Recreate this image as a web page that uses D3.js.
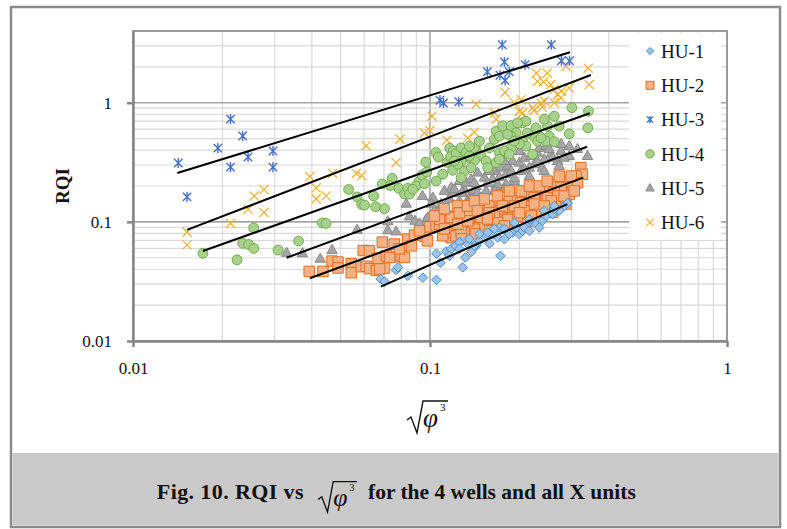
<!DOCTYPE html>
<html>
<head>
<meta charset="utf-8">
<script src="https://d3js.org/d3.v7.min.js"></script>
<style>
  body { margin: 0; background: #fff; }
  text { font-family: "Liberation Serif", "Times New Roman", serif; fill: #111; }
</style>
</head>
<body>
<script>
// data points: [sqrt(phi^3), RQI]
var hu1 = [[0.0682,0.0332],[0.0703,0.0315],[0.0769,0.0394],[0.078,0.0416],[0.0842,0.0353],[0.0946,0.034],
  [0.1051,0.0326],[0.1051,0.054],[0.1084,0.0454],[0.1132,0.0564],[0.1177,0.0591],[0.1218,0.063],[0.1256,0.0674],
  [0.1289,0.0415],[0.1316,0.0503],[0.1378,0.0561],[0.1357,0.0651],[0.143,0.063],[0.1585,0.0658],[0.1726,0.0519],
  [0.169,0.0739],[0.178,0.0717],[0.1897,0.0814],[0.200,0.0789],[0.205,0.0841],[0.216,0.0956],[0.2105,0.0926],
  [0.2274,0.0956],[0.239,0.102],[0.2457,0.112],[0.2586,0.116],[0.2723,0.124],[0.283,0.136],[0.2905,0.144],
  [0.1545,0.0764],[0.1626,0.0789],[0.1467,0.0693],[0.1712,0.0896],[0.1949,0.0896],[0.2333,0.0896],[0.262,0.128],
  [0.2077,0.0896],[0.185,0.0789],[0.1411,0.063],[0.134,0.0651],[0.1564,0.0814],[0.216,0.0841],
  [0.1467,0.0793],[0.1647,0.0874],[0.178,0.0874],[0.1923,0.0981],[0.216,0.105],[0.2425,0.124],[0.262,0.136],
  [0.1357,0.072],[0.1256,0.0594],[0.1163,0.0519]];

var hu2 = [[0.0392,0.0384],[0.0436,0.0384],[0.0468,0.0469],[0.049,0.046],[0.049,0.041],[0.0543,0.0445],
  [0.0543,0.0374],[0.0587,0.042],[0.061,0.0424],[0.0626,0.0405],[0.0596,0.0575],[0.0625,0.0572],[0.066,0.0391],
  [0.0703,0.041],[0.0668,0.0495],[0.0713,0.0519],[0.0691,0.0676],[0.0758,0.0651],[0.078,0.051],[0.0731,0.0503],
  [0.080,0.0519],[0.0821,0.0503],[0.0842,0.0717],[0.0887,0.0775],[0.0962,0.0756],[0.0996,0.0908],[0.1049,0.0926],
  [0.1076,0.0956],[0.1133,0.0956],[0.1163,0.102],[0.1179,0.0735],[0.1179,0.0814],[0.1306,0.0852],[0.1392,0.0956],
  [0.1467,0.102],[0.1545,0.0926],[0.1626,0.105],[0.1669,0.116],[0.178,0.112],[0.1897,0.120],[0.200,0.132],
  [0.2105,0.141],[0.2215,0.150],[0.2333,0.160],[0.2457,0.165],[0.2586,0.171],[0.2723,0.182],[0.287,0.194],
  [0.302,0.207],[0.310,0.213],[0.1289,0.102],[0.1357,0.112],[0.1504,0.124],[0.1585,0.136],[0.1712,0.141],
  [0.185,0.150],[0.1972,0.160],[0.2105,0.171],[0.2274,0.182],[0.2457,0.194],[0.2655,0.207],[0.1076,0.105],
  [0.1179,0.109],[0.1104,0.0764],[0.1224,0.0764],[0.1357,0.0814],[0.1467,0.0896],[0.1585,0.0841],[0.1712,0.0987],
  [0.1897,0.102],[0.2105,0.109],[0.2274,0.120],[0.252,0.132],[0.2723,0.150],[0.2943,0.171],[0.287,0.141],
  [0.2586,0.120],[0.322,0.285],[0.326,0.251],[0.310,0.242],[0.2905,0.220],[0.314,0.213],[0.276,0.194],
  [0.262,0.176],[0.2487,0.160],[0.2188,0.136],[0.1735,0.128],[0.269,0.165],[0.2131,0.124],[0.1972,0.112],
  [0.1825,0.105],[0.169,0.0987],[0.1411,0.0868],[0.1273,0.0841],[0.124,0.0956],[0.134,0.102],[0.1486,0.109],
  [0.1647,0.120],[0.1825,0.132],[0.2025,0.145],[0.2245,0.160],[0.0677,0.0402],
  [0.1035,0.112],[0.1118,0.129],[0.1237,0.136],[0.1256,0.119],[0.1336,0.136],[0.1411,0.150],[0.1444,0.124],
  [0.1525,0.156],[0.1585,0.119],[0.1686,0.165],[0.1753,0.136],[0.185,0.182],[0.1923,0.136],[0.203,0.182],
  [0.216,0.200],[0.2245,0.141],[0.2333,0.200],[0.248,0.220],[0.256,0.150],[0.2723,0.242],[0.283,0.165],
  [0.299,0.242],[0.306,0.182],[0.1118,0.0874],[0.1276,0.072],[0.1422,0.0793],[0.1561,0.106],[0.178,0.0926],
  [0.200,0.119],[0.2193,0.112],[0.2425,0.136],[0.0922,0.0841],[0.098,0.0693],[0.0866,0.063],[0.0789,0.0594]];

var hu3 = [[0.0142,0.312],[0.0213,0.728],[0.0234,0.525],[0.0193,0.416],[0.0244,0.350],[0.0296,0.393],
  [0.0213,0.288],[0.0296,0.288],[0.0152,0.162],[0.175,3.07],[0.256,3.07],[0.178,2.20],[0.209,2.09],
  [0.156,1.82],[0.172,1.70],[0.185,1.82],[0.179,1.54],[0.108,1.05],[0.111,0.995],[0.125,1.02],
  [0.277,2.25],[0.295,2.25]];

var hu4 = [[0.0172,0.0545],[0.0224,0.048],[0.0234,0.066],[0.0245,0.0646],[0.0255,0.0598],[0.0255,0.089],
  [0.0308,0.058],[0.0361,0.069],[0.0434,0.098],[0.0447,0.097],[0.0532,0.187],[0.0568,0.162],[0.0589,0.140],
  [0.0602,0.138],[0.0646,0.165],[0.0656,0.134],[0.0703,0.129],[0.0691,0.208],[0.0746,0.232],[0.0735,0.202],
  [0.0785,0.191],[0.0821,0.171],[0.0842,0.191],[0.0853,0.171],[0.0917,0.217],[0.0941,0.247],[0.0975,0.262],
  [0.0968,0.318],[0.1046,0.382],[0.1066,0.350],[0.1142,0.316],[0.1165,0.416],[0.1196,0.393],[0.1172,0.352],
  [0.1224,0.373],[0.1273,0.418],[0.1323,0.380],[0.1375,0.335],[0.143,0.406],[0.1273,0.324],[0.1585,0.418],
  [0.1647,0.492],[0.1669,0.578],[0.1757,0.640],[0.1874,0.642],[0.1949,0.559],[0.205,0.678],[0.2105,0.700],
  [0.2274,0.615],[0.2333,0.524],[0.2487,0.636],[0.252,0.524],[0.262,0.771],[0.2943,0.548],[0.3005,0.908],
  [0.3416,0.849],[0.340,0.615],[0.2245,0.515],[0.205,0.476],[0.1874,0.524],[0.1712,0.524],[0.1712,0.380],
  [0.1874,0.418],[0.2105,0.432],[0.2215,0.369],[0.2302,0.476],[0.2457,0.476],[0.1486,0.357],[0.1545,0.324],
  [0.1306,0.267],[0.1192,0.271],[0.1104,0.251],[0.1049,0.220],[0.0898,0.200],[0.0875,0.188],[0.0958,0.209],
  [0.262,0.470],[0.200,0.452],[0.1825,0.542],[0.178,0.393],[0.185,0.369],[0.1411,0.328],[0.1357,0.357],
  [0.1375,0.285],[0.1564,0.285],[0.1273,0.235],[0.124,0.304],[0.1669,0.314],[0.1972,0.678],[0.2364,0.508],
  [0.1411,0.418],[0.1208,0.324],[0.1357,0.432],[0.1467,0.476],[0.1712,0.335],[0.1923,0.476],[0.2126,0.556],
  [0.2425,0.728],[0.2723,0.636]];

var hu5 = [[0.0329,0.055],[0.0372,0.0545],[0.0427,0.049],[0.0468,0.058],[0.0568,0.0857],[0.0721,0.101],
  [0.0721,0.085],[0.0769,0.083],[0.0853,0.111],[0.089,0.102],[0.0971,0.105],[0.0832,0.142],[0.0943,0.165],
  [0.1022,0.160],[0.1009,0.142],[0.1133,0.116],[0.1076,0.125],[0.1035,0.125],[0.1118,0.182],[0.1179,0.194],
  [0.1192,0.176],[0.1224,0.128],[0.109,0.141],[0.0922,0.097],[0.0983,0.109],[0.1148,0.120],[0.1256,0.150],
  [0.1289,0.128],[0.1357,0.160],[0.143,0.141],[0.1504,0.160],[0.1208,0.188],[0.1306,0.188],[0.143,0.200],
  [0.1545,0.182],[0.1669,0.200],[0.1803,0.207],[0.1256,0.220],[0.1323,0.213],[0.1375,0.228],[0.1447,0.259],
  [0.1525,0.235],[0.1626,0.228],[0.1647,0.267],[0.1735,0.285],[0.1825,0.294],[0.1897,0.324],[0.1803,0.251],
  [0.200,0.314],[0.2077,0.345],[0.2188,0.357],[0.2302,0.380],[0.2333,0.418],[0.2457,0.432],[0.262,0.461],
  [0.2943,0.432],[0.2943,0.357],[0.276,0.393],[0.255,0.369],[0.2245,0.304],[0.2425,0.335],[0.2025,0.267],
  [0.1923,0.220],[0.169,0.207],[0.1411,0.182],[0.1289,0.176],[0.339,0.357],[0.269,0.324],[0.216,0.285],
  [0.239,0.285],[0.178,0.188],[0.134,0.145],[0.1467,0.160],[0.283,0.345],[0.259,0.345],
  [0.1163,0.156],[0.1276,0.175],[0.1411,0.212],[0.1561,0.212],[0.1712,0.238],[0.1878,0.267],[0.2077,0.278],
  [0.2297,0.324],[0.252,0.408],[0.2767,0.450],[0.3137,0.408],[0.200,0.393],[0.178,0.324],[0.1585,0.267],
  [0.1444,0.175],[0.1647,0.182],[0.1923,0.233],[0.216,0.242],[0.2425,0.267],[0.2723,0.294]];

var hu6 = [[0.0152,0.082],[0.0152,0.064],[0.0213,0.097],[0.0244,0.128],[0.0256,0.165],[0.0276,0.187],
  [0.0276,0.120],[0.0394,0.240],[0.0414,0.193],[0.0414,0.156],[0.0447,0.165],[0.047,0.255],[0.0565,0.255],
  [0.0589,0.245],[0.061,0.436],[0.0769,0.315],[0.0793,0.495],[0.1016,0.771],[0.0958,0.558],[0.100,0.585],
  [0.114,0.485],[0.134,0.505],[0.141,0.566],[0.143,0.970],[0.165,0.822],[0.167,0.728],[0.179,1.22],
  [0.192,1.00],[0.203,1.06],[0.200,0.849],[0.205,0.822],[0.222,0.905],[0.224,0.861],[0.237,0.995],
  [0.239,0.916],[0.243,1.03],[0.262,1.00],[0.228,1.77],[0.248,1.77],[0.230,1.51],[0.241,1.50],[0.255,1.42],
  [0.262,1.29],[0.269,1.17],[0.277,1.25],[0.287,2.02],[0.294,1.33],[0.276,1.10],[0.341,1.95],[0.344,1.42]];

// power-law trend lines, end points [x, RQI]
var trend1 = [[0.0683,0.0286],[0.290,0.141]];
var trend2 = [[0.0394,0.0336],[0.328,0.235]];
var trend3 = [[0.0141,0.257],[0.296,2.65]];
var trend4 = [[0.0172,0.0569],[0.345,0.817]];
var trend5 = [[0.0329,0.050],[0.338,0.427]];
var trend6 = [[0.0152,0.0857],[0.348,1.71]];

var seriesNames = ["HU-1", "HU-2", "HU-3", "HU-4", "HU-5", "HU-6"];
var xTicks = [0.01, 0.1, 1];
var yTicks = [0.01, 0.1, 1];

var W = 787, H = 529;
var pLeft = 133, pRight = 727, pTop = 31, pBottom = 341;

var svg = d3.select("body").append("svg")
    .attr("width", W)
    .attr("height", H);

// figure frame and caption band
svg.append("rect")
    .attr("x", 11).attr("y", 7).attr("width", 769).attr("height", 520)
    .attr("fill", "#fff").attr("stroke", "#8a8a8a").attr("stroke-width", 2.5);
svg.append("rect")
    .attr("x", 12.5).attr("y", 453).attr("width", 766).attr("height", 72.5)
    .attr("fill", "#c9c9c9");

var x = d3.scaleLog().domain([0.01, 1]).range([pLeft, pRight]);
var y = d3.scaleLog().domain([0.01, 4]).range([pBottom, pTop]);

// gridlines
var grid = svg.append("g");
grid.selectAll(".gx").data(x.ticks()).enter().append("line")
    .attr("x1", function(d) { return x(d); })
    .attr("x2", function(d) { return x(d); })
    .attr("y1", pTop).attr("y2", pBottom)
    .attr("stroke", function(d) { return xTicks.indexOf(d) >= 0 ? "#a6a6a6" : "#d9d9d9"; })
    .attr("stroke-width", function(d) { return xTicks.indexOf(d) >= 0 ? 1.6 : 1.2; });
grid.selectAll(".gy").data(y.ticks()).enter().append("line")
    .attr("y1", function(d) { return y(d); })
    .attr("y2", function(d) { return y(d); })
    .attr("x1", pLeft).attr("x2", pRight)
    .attr("stroke", function(d) { return yTicks.indexOf(d) >= 0 ? "#a6a6a6" : "#d9d9d9"; })
    .attr("stroke-width", function(d) { return yTicks.indexOf(d) >= 0 ? 1.6 : 1.2; });

// plot border
svg.append("rect")
    .attr("x", pLeft).attr("y", pTop).attr("width", pRight - pLeft).attr("height", pBottom - pTop)
    .attr("fill", "none").attr("stroke", "#9a9a9a").attr("stroke-width", 2);

// marker shapes
function diamond(r) { return "M0," + (-r) + "L" + r + ",0L0," + r + "L" + (-r) + ",0Z"; }
function square(s) { var h = s / 2; return "M" + (-h) + "," + (-h) + "h" + s + "v" + s + "h" + (-s) + "Z"; }
function triangle(s) { var h = s * 0.87; return "M0," + (-h * 0.62) + "L" + (s / 2) + "," + (h * 0.38) + "L" + (-s / 2) + "," + (h * 0.38) + "Z"; }
function cross(r) { return "M" + (-r) + "," + (-r) + "L" + r + "," + r + "M" + (-r) + "," + r + "L" + r + "," + (-r); }
function star(r) { return cross(r) + "M0," + (-r * 1.2) + "L0," + (r * 1.2); }

var styles = [
  { data: hu1, path: diamond(4.8), lp: diamond(3.6), fill: "#9dc3e6", stroke: "#4a8fd0", sw: 1 },
  { data: hu2, path: square(10.5), lp: square(8), fill: "#f4b183", stroke: "#e07028", sw: 1 },
  { data: hu3, path: star(4.2), lp: star(3), fill: "none", stroke: "#4472c4", sw: 1.4 },
  { data: hu4, path: null, r: 4.9, lr: 4.2, fill: "#a9d18e", stroke: "#6fac46", sw: 1 },
  { data: hu5, path: triangle(10.5), lp: triangle(8.5), fill: "#a5a5a5", stroke: "#8a8a8a", sw: 1 },
  { data: hu6, path: cross(4.6), lp: cross(3.6), fill: "none", stroke: "#f2b02e", sw: 1.2 }
];

// scatter, drawn last series first
var pts = svg.append("g");
[5, 4, 3, 2, 1, 0].forEach(function(i) {
  var st = styles[i];
  var g = pts.append("g");
  if (st.path) {
    g.selectAll("path").data(st.data).enter().append("path")
        .attr("d", st.path)
        .attr("transform", function(d) { return "translate(" + x(d[0]) + "," + y(d[1]) + ")"; })
        .attr("fill", st.fill).attr("stroke", st.stroke).attr("stroke-width", st.sw);
  } else {
    g.selectAll("circle").data(st.data).enter().append("circle")
        .attr("cx", function(d) { return x(d[0]); })
        .attr("cy", function(d) { return y(d[1]); })
        .attr("r", st.r)
        .attr("fill", st.fill).attr("stroke", st.stroke).attr("stroke-width", st.sw);
  }
});

// trend lines
var line = d3.line().x(function(d) { return x(d[0]); }).y(function(d) { return y(d[1]); });
[trend1, trend2, trend3, trend4, trend5, trend6].forEach(function(t) {
  svg.append("path").attr("d", line(t))
      .attr("fill", "none").attr("stroke", "#000").attr("stroke-width", 2);
});

// axes
var yAxis = svg.append("g").attr("transform", "translate(" + pLeft + ",0)")
    .call(d3.axisLeft(y).tickValues(yTicks).tickFormat(function(d) { return String(d); })
      .tickSize(6).tickSizeOuter(0).tickPadding(15));
var xAxis = svg.append("g").attr("transform", "translate(0," + pBottom + ")")
    .call(d3.axisBottom(x).tickValues(xTicks).tickFormat(function(d) { return String(d); })
      .tickSize(6).tickSizeOuter(0).tickPadding(15));
[yAxis, xAxis].forEach(function(a) {
  a.select(".domain").attr("stroke", "#868686").attr("stroke-width", 2.5);
  a.selectAll(".tick line").attr("stroke", "#868686").attr("stroke-width", 2.5);
  a.selectAll(".tick text").style("font-size", "17px")
      .style("font-family", '"Liberation Serif", serif').attr("fill", "#111");
});

// legend
var legend = svg.append("g");
legend.append("rect").attr("x", 629).attr("y", 33).attr("width", 92).attr("height", 207).attr("fill", "#fff");
seriesNames.forEach(function(name, i) {
  var st = styles[i];
  var ly = 51 + i * 34.3;
  if (st.path) {
    legend.append("path").attr("d", st.lp)
        .attr("transform", "translate(650," + ly + ")")
        .attr("fill", st.fill).attr("stroke", st.stroke).attr("stroke-width", st.sw);
  } else {
    legend.append("circle").attr("cx", 650).attr("cy", ly).attr("r", st.lr)
        .attr("fill", st.fill).attr("stroke", st.stroke).attr("stroke-width", st.sw);
  }
  legend.append("text").attr("x", 661).attr("y", ly).attr("dy", "0.35em")
      .style("font-size", "19px").text(name);
});

// y title
svg.append("text")
    .attr("transform", "translate(62,186) rotate(-90)")
    .attr("text-anchor", "middle").attr("dy", "0.35em")
    .style("font-size", "19px").style("font-weight", "bold")
    .text("RQI");

// sqrt(phi^3) symbol: x0 left edge, yb bottom of the radical, k scale
function sqrtPhi3(x0, yb, k) {
  var g = svg.append("g").attr("transform", "translate(" + x0 + "," + yb + ") scale(" + k + ")");
  g.append("path")
      .attr("d", "M0,-13L4,-16L10,0L16,-32L41,-32")
      .attr("fill", "none").attr("stroke", "#111").attr("stroke-width", 1.4)
      .attr("stroke-linejoin", "miter");
  g.append("text").attr("x", 16).attr("y", -6)
      .style("font-size", "27px").style("font-style", "italic").text("φ");
  g.append("text").attr("x", 33).attr("y", -22)
      .style("font-size", "11px").text("3");
}
sqrtPhi3(407, 433, 1);

// caption
svg.append("text").attr("x", 304).attr("y", 499).attr("text-anchor", "end")
    .style("font-size", "22px").style("font-weight", "bold").style("letter-spacing", "0.4px")
    .text("Fig. 10. RQI vs");
sqrtPhi3(318, 512, 0.95);
svg.append("text").attr("x", 368).attr("y", 499)
    .style("font-size", "21.5px").style("font-weight", "bold")
    .text("for the 4 wells and all X units");
</script>
</body>
</html>
